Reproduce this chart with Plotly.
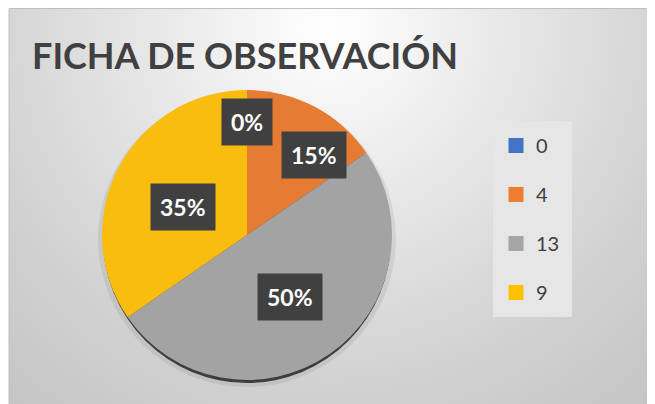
import math
import base64
import plotly.graph_objects as go

# datos de la ficha
labels = ["0", "4", "13", "9"]
values = [0, 4, 13, 9]
colors = ["#4472C4", "#ED7D31", "#A5A5A5", "#FFC000"]
slice_colors = ["#4472C4", "#E67C33", "#A3A3A3", "#F8BD0F"]
title_text = "FICHA DE OBSERVACIÓN"

W, H = 655, 404
OX, OY = 8, 8  # margen del body de la pagina
CX, CY, R = 247, 235, 145  # centro y radio del pastel (px de pagina)


def fx(px):
    return (px - OX) / W


def fy(py):
    return 1 - (py - OY) / H


# fondo degradado radial (estilo Excel)
bw, bh = W - 1, H
svg = (
    f'<svg xmlns="http://www.w3.org/2000/svg" width="{bw}" height="{bh}" preserveAspectRatio="none">'
    '<defs><radialGradient id="g" gradientUnits="userSpaceOnUse" cx="320" cy="20" r="500">'
    '<stop offset="0" stop-color="#ffffff"/><stop offset="0.3" stop-color="#ebebeb"/>'
    '<stop offset="0.7" stop-color="#d2d2d2"/><stop offset="1" stop-color="#c4c4c4"/>'
    '</radialGradient></defs>'
    f'<rect width="{bw}" height="{bh}" fill="url(#g)"/></svg>'
)
bg_src = "data:image/svg+xml;base64," + base64.b64encode(svg.encode()).decode()

fig = go.Figure()

fig.add_trace(go.Pie(
    labels=labels, values=values, sort=False, direction="clockwise", rotation=0,
    marker=dict(colors=slice_colors, line=dict(width=0)),
    textinfo="none", showlegend=False,
    domain=dict(x=[fx(CX - R), fx(CX + R)], y=[fy(CY + R), fy(CY - R)]),
))

# leyenda con trazas fantasma para poder separar las entradas
for lab, col in zip(labels, colors):
    fig.add_trace(go.Scatter(
        x=[None], y=[None], mode="markers", name=lab, legendgroup=lab,
        marker=dict(symbol="square", size=15, color=col),
    ))

# etiquetas de porcentaje en cajas oscuras
total = sum(values)
label_r = [0.78, 0.72, 0.52, 0.48]
nudge = [0, 12, 0, -4]
start = 0
for i, v in enumerate(values):
    frac = v / total
    mid = math.radians((start + frac / 2) * 360 + nudge[i])
    start += frac
    px = CX + label_r[i] * R * math.sin(mid)
    py = CY - label_r[i] * R * math.cos(mid)
    fig.add_annotation(
        x=fx(px), y=fy(py), xref="paper", yref="paper", showarrow=False,
        xanchor="center", yanchor="middle",
        text=f"<b>{round(frac * 100)}%</b>",
        font=dict(family="Lato", size=23, color="white"),
        bgcolor="#404040", borderpad=9,
    )

fig.update_layout(
    width=W, height=H, margin=dict(l=0, r=0, t=0, b=0),
    paper_bgcolor="white", plot_bgcolor="rgba(0,0,0,0)",
    xaxis=dict(visible=False, domain=[0, 1]), yaxis=dict(visible=False, domain=[0, 1]),
    title=dict(
        text=f"<b>{title_text}</b>", x=fx(32), xanchor="left", y=fy(56), yanchor="middle",
        font=dict(family="Lato", size=36, color="#404040"),
    ),
    legend=dict(
        x=fx(496), xanchor="left", y=fy(126), yanchor="top",
        bgcolor="rgba(0,0,0,0)", tracegroupgap=20,
        font=dict(family="Lato", size=20, color="#404040"),
    ),
    images=[dict(
        source=bg_src, xref="paper", yref="paper", x=1 / W, y=1,
        sizex=bw / W, sizey=1, sizing="stretch", layer="below",
    )],
    shapes=[
        # borde del grafico
        dict(type="rect", xref="paper", yref="paper", x0=fx(9), x1=1.02, y0=-0.02, y1=1 - 0.5 / H,
             line=dict(color="#bfbfbf", width=1), layer="below"),
        # caja de la leyenda
        dict(type="rect", xref="paper", yref="paper", x0=fx(493), x1=fx(572),
             y0=fy(317), y1=fy(121), fillcolor="#e6e6e6", line=dict(width=0), layer="below"),
        # sombra suave y borde inferior oscuro del pastel
        dict(type="circle", xref="paper", yref="paper",
             x0=fx(CX - R - 4), x1=fx(CX + R + 4), y0=fy(CY + R + 7), y1=fy(CY - R + 1),
             fillcolor="rgba(0,0,0,0.07)", line=dict(width=0), layer="below"),
        dict(type="circle", xref="paper", yref="paper",
             x0=fx(CX - R + 1), x1=fx(CX + R - 1), y0=fy(CY + R + 3), y1=fy(CY - R + 3),
             fillcolor="#3d3d3d", line=dict(width=0), layer="below"),
    ],
)

fig.write_html("out.html")
